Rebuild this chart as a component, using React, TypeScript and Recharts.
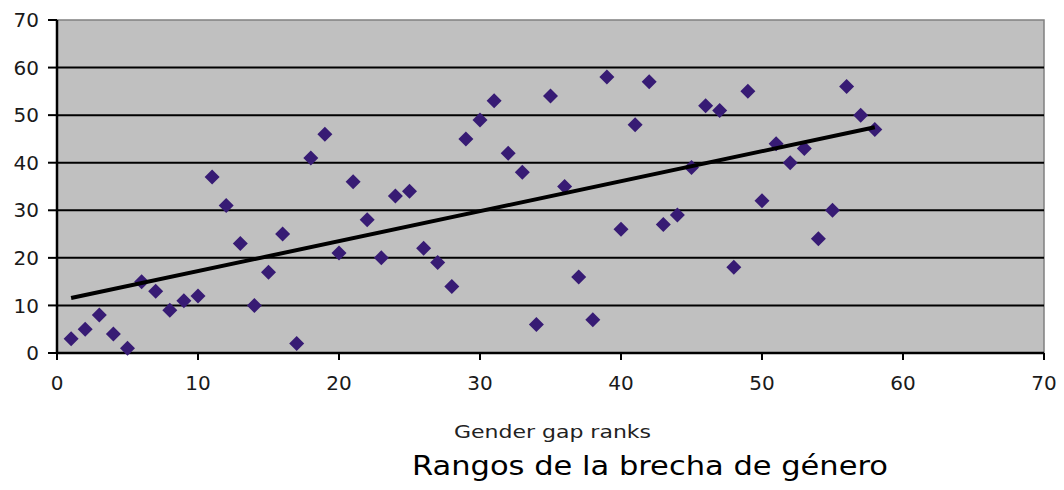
import React from 'react';
import { ScatterChart, Scatter, XAxis, YAxis, ReferenceLine, ReferenceArea, Label } from 'recharts';

const ranks = [
  1, 2, 3, 4, 5, 6, 7, 8, 9, 10,
  11, 12, 13, 14, 15, 16, 17, 18, 19, 20,
  21, 22, 23, 24, 25, 26, 27, 28, 29, 30,
  31, 32, 33, 34, 35, 36, 37, 38, 39, 40,
  41, 42, 43, 44, 45, 46, 47, 48, 49, 50,
  51, 52, 53, 54, 55, 56, 57, 58,
];
const values = [
  3, 5, 8, 4, 1, 15, 13, 9, 11, 12,
  37, 31, 23, 10, 17, 25, 2, 41, 46, 21,
  36, 28, 20, 33, 34, 22, 19, 14, 45, 49,
  53, 42, 38, 6, 54, 35, 16, 7, 58, 26,
  48, 57, 27, 29, 39, 52, 51, 18, 55, 32,
  44, 40, 43, 24, 30, 56, 50, 47,
];
const xTicks = [0, 10, 20, 30, 40, 50, 60, 70];
const yTicks = [0, 10, 20, 30, 40, 50, 60, 70];
const gridValues = [10, 20, 30, 40, 50, 60];
const xAxisLabel = 'Gender gap ranks';
const title = 'Rangos de la brecha de género';

const points = ranks.map((r, i) => ({ x: r, y: values[i] }));

// least-squares linear trend line (as in the original spreadsheet chart)
const n = points.length;
const mx = points.reduce((s, p) => s + p.x, 0) / n;
const my = points.reduce((s, p) => s + p.y, 0) / n;
const sxy = points.reduce((s, p) => s + (p.x - mx) * (p.y - my), 0);
const sxx = points.reduce((s, p) => s + (p.x - mx) * (p.x - mx), 0);
const slope = sxy / sxx;
const intercept = my - slope * mx;
const xMin = Math.min(...ranks);
const xMax = Math.max(...ranks);
const trend = [
  { x: xMin, y: intercept + slope * xMin },
  { x: xMax, y: intercept + slope * xMax },
];

const Diamond = (p: any) => {
  const { cx, cy } = p;
  if (cx == null || cy == null) return <g />;
  const r = 7.5;
  return (
    <polygon
      points={`${cx},${cy - r} ${cx + r},${cy} ${cx},${cy + r} ${cx - r},${cy}`}
      fill="#371b74"
    />
  );
};

const NoShape = () => <g />;

const AxisTitle = (props: any) => {
  const vb = props.viewBox || { x: 57, y: 353, width: 987, height: 137 };
  return (
    <text
      x={vb.x + 397}
      y={vb.y + 85}
      fontFamily="DejaVu Sans, sans-serif"
      fontSize={18}
      fill="#222"
      textLength={197}
      lengthAdjust="spacingAndGlyphs"
    >
      {xAxisLabel}
    </text>
  );
};

const MainTitle = (props: any) => {
  const vb = props.viewBox || { x: 57, y: 353, width: 987, height: 137 };
  return (
    <text
      x={vb.x + 355}
      y={vb.y + 122}
      fontFamily="DejaVu Sans, sans-serif"
      fontSize={26}
      fill="#000"
      textLength={476}
      lengthAdjust="spacingAndGlyphs"
    >
      {title}
    </text>
  );
};

const tickStyle = { fontSize: 20, fontFamily: 'DejaVu Sans, sans-serif', fill: '#1a1a1a' };

export default function App() {
  return (
    <div style={{ position: 'absolute', left: 0, top: 0, width: 1064, height: 490, background: '#fff' }}>
      <ScatterChart width={1064} height={490} margin={{ top: 20, right: 20, bottom: 0, left: 0 }}>
        <ReferenceArea
          x1={0}
          x2={70}
          y1={0}
          y2={70}
          fill="#c0c0c0"
          fillOpacity={1}
          stroke="#808080"
          strokeWidth={1.5}
          ifOverflow="visible"
        />
        {gridValues.map((v) => (
          <ReferenceLine key={v} y={v} stroke="#000" strokeWidth={2} />
        ))}
        <XAxis
          type="number"
          dataKey="x"
          domain={[0, 70]}
          ticks={xTicks}
          interval={0}
          height={137}
          axisLine={{ stroke: '#000', strokeWidth: 2.5 }}
          tickLine={{ stroke: '#000', strokeWidth: 2 }}
          tickSize={7}
          tickMargin={16}
          tick={tickStyle}
        >
          <Label content={<AxisTitle />} />
          <Label content={<MainTitle />} />
        </XAxis>
        <YAxis
          type="number"
          dataKey="y"
          domain={[0, 70]}
          ticks={yTicks}
          interval={0}
          width={57}
          axisLine={{ stroke: '#000', strokeWidth: 2.5 }}
          tickLine={{ stroke: '#000', strokeWidth: 2 }}
          tickSize={9}
          tickMargin={9}
          tick={tickStyle}
        />
        <Scatter data={points} shape={<Diamond />} isAnimationActive={false} />
        <Scatter
          data={trend}
          line={{ stroke: '#000', strokeWidth: 4 }}
          shape={<NoShape />}
          isAnimationActive={false}
        />
      </ScatterChart>
    </div>
  );
}
